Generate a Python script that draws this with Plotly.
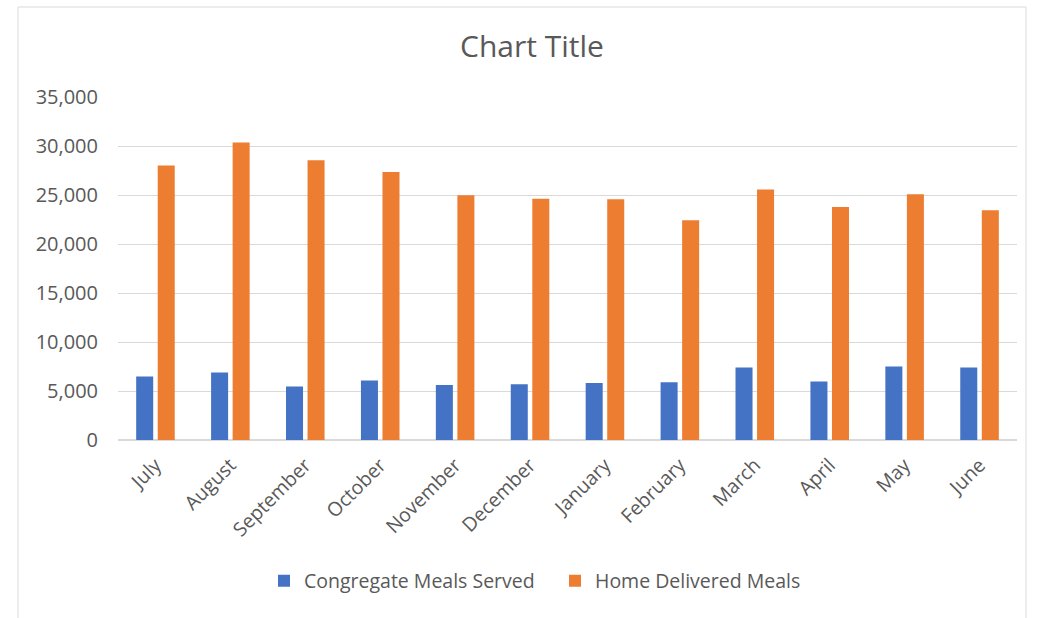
import plotly.graph_objects as go

months = ["July", "August", "September", "October", "November", "December",
          "January", "February", "March", "April", "May", "June"]
congregate = [6470, 6880, 5450, 6060, 5610, 5680, 5820, 5890, 7390, 5960, 7490, 7390]
home_delivered = [28000, 30350, 28540, 27350, 24970, 24630, 24560, 22420, 25550, 23780, 25070, 23440]
series_names = ["Congregate Meals Served", "Home Delivered Meals"]
y_ticks = [0, 5000, 10000, 15000, 20000, 25000, 30000, 35000]

FONT = "Open Sans"
TXT = "#595959"
GRID = "#D9D9D9"

fig = go.Figure()
fig.add_trace(go.Bar(x=months, y=congregate, name=series_names[0],
                     marker=dict(color="#4472C4", line=dict(width=0))))
fig.add_trace(go.Bar(x=months, y=home_delivered, name=series_names[1],
                     marker=dict(color="#ED7D31", line=dict(width=0))))

fig.update_layout(
    width=1048, height=618,
    margin=dict(l=118, r=31, t=97, b=178),
    paper_bgcolor="white", plot_bgcolor="white",
    font=dict(family=FONT, color=TXT, size=19),
    title=dict(text="Chart Title", x=0.5076, xanchor="center", y=1 - 46 / 618,
               yanchor="middle", yref="container",
               font=dict(family=FONT, size=30, color=TXT)),
    barmode="group", bargap=0.425, bargroupgap=0.21,
    showlegend=True,
    legend=dict(orientation="h", x=(278 - 14 - 118) / 899, xanchor="left", y=-0.411,
                yanchor="middle", entrywidth=246, entrywidthmode="pixels",
                font=dict(family=FONT, size=19.5, color=TXT), bgcolor="rgba(0,0,0,0)"),
    xaxis=dict(tickangle=-45, showgrid=False, showline=False, ticks="",
               ticklabelstandoff=9,
               tickfont=dict(family=FONT, size=19.5, color=TXT)),
    yaxis=dict(range=[0, 35000], tickvals=y_ticks, tickformat=",", showgrid=True,
               gridcolor=GRID, gridwidth=1, zeroline=True, zerolinecolor=GRID,
               zerolinewidth=1.5, showline=False, ticks="", ticklabelstandoff=19,
               tickfont=dict(family=FONT, size=20, color=TXT)),
    shapes=[dict(type="rect", xref="paper", yref="paper",
                 x0=(18 - 118) / 899, x1=(1026 - 118) / 899,
                 y0=(440 - 640) / 343, y1=(440 - 7) / 343,
                 line=dict(color=GRID, width=1), fillcolor="rgba(0,0,0,0)", layer="below")],
)

fig.write_html("out.html", config={"displayModeBar": False},
               post_script="document.body.style.margin='0';")
